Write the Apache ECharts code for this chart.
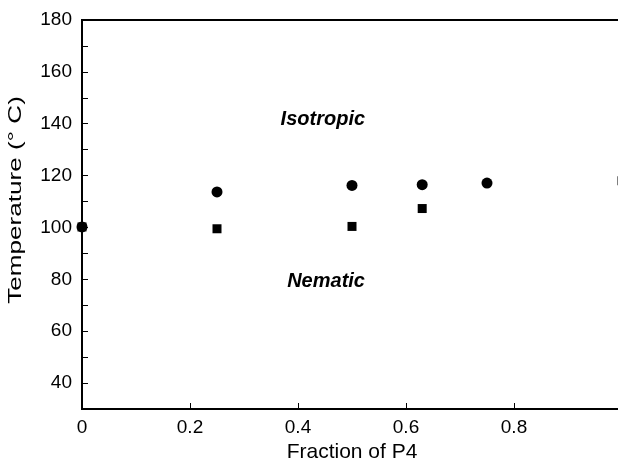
<!DOCTYPE html>
<html lang="en">
<head>
    <meta charset="UTF-8">
    <title>Phase diagram</title>
    <style>
        html,body{margin:0;padding:0;background:#fff;}
        #chart{width:618px;height:464px;}
    </style>
</head>
<body>
    <div id="chart"></div>
    <script src="https://cdn.jsdelivr.net/npm/echarts@6/dist/echarts.min.js"></script>
    <script>
        // isotropic -> nematic transition (circles), and the lower one (squares)
        let fraction = [0, 0.25, 0.5, 0.63, 0.75]
        let upperTemp = [100.2, 113.7, 116.2, 116.5, 117.1]
        let fractionSq = [0, 0.25, 0.5, 0.63, 1.0]
        let lowerTemp = [100.2, 99.5, 100.4, 107.3, 118]
        let yTicks = [40, 60, 80, 100, 120, 140, 160, 180]
        let phaseNames = ['Isotropic', 'Nematic']
        let phaseAt = [[0.446, 141.5], [0.452, 79.3]]

        let font = 'Liberation Sans, Arial, Helvetica, sans-serif'
        let chart = echarts.init(document.getElementById('chart'))

        let option = {
            animation:false,
            grid:{
                left:82, top:20, right:-4, bottom:55,
                outerBoundsMode:'none',
                containLabel:false,
                show:true, borderColor:'#000', borderWidth:2
            },
            // the y title is drawn stretched along its length, like the scan
            graphic:[{
                type:'text',
                x:16, y:200,
                rotation:Math.PI/2,
                scaleX:1.45,
                silent:true,
                style:{
                    text:'Temperature (° C)',
                    fill:'#000',
                    font:'18px ' + font,
                    align:'center',
                    verticalAlign:'middle'
                }
            }],
            xAxis:{
                type:'value',
                min:0, max:1, interval:0.2,
                name:'Fraction of P4',
                nameLocation:'middle',
                nameGap:27,
                nameTextStyle:{color:'#000', fontSize:21, fontFamily:font},
                axisLine:{lineStyle:{color:'#000', width:2}},
                axisTick:{inside:true, length:6, lineStyle:{color:'#000'}},
                axisLabel:{color:'#000', fontSize:19, fontFamily:font, margin:9,
                    formatter:v => String(Math.round(v*10)/10)},
                splitLine:{show:false}
            },
            yAxis:{
                type:'value',
                min:30, max:180, interval:10,
                axisLine:{lineStyle:{color:'#000', width:2}},
                axisTick:{inside:true, length:6, lineStyle:{color:'#000'}},
                axisLabel:{color:'#000', fontSize:19, fontFamily:font, margin:10,
                    formatter:v => yTicks.includes(v) ? String(v) : ''},
                splitLine:{show:false}
            },
            series:[
                {
                    type:'scatter',
                    symbol:'circle',
                    symbolSize:11,
                    itemStyle:{color:'#000', opacity:1},
                    data:fraction.map((f,i)=>[f, upperTemp[i]])
                },
                {
                    type:'scatter',
                    symbol:'rect',
                    symbolSize:9,
                    itemStyle:{color:'#000', opacity:1},
                    data:fractionSq.map((f,i)=>[f, lowerTemp[i]])
                },
                {
                    type:'scatter',
                    symbolSize:0,
                    silent:true,
                    itemStyle:{opacity:1},
                    label:{
                        show:true, position:'inside',
                        formatter:p => phaseNames[p.dataIndex],
                        color:'#000', fontSize:20, fontWeight:'bold',
                        fontStyle:'italic', fontFamily:font
                    },
                    data:phaseAt
                }
            ]
        }
        chart.setOption(option)
    </script>
</body>
</html>
